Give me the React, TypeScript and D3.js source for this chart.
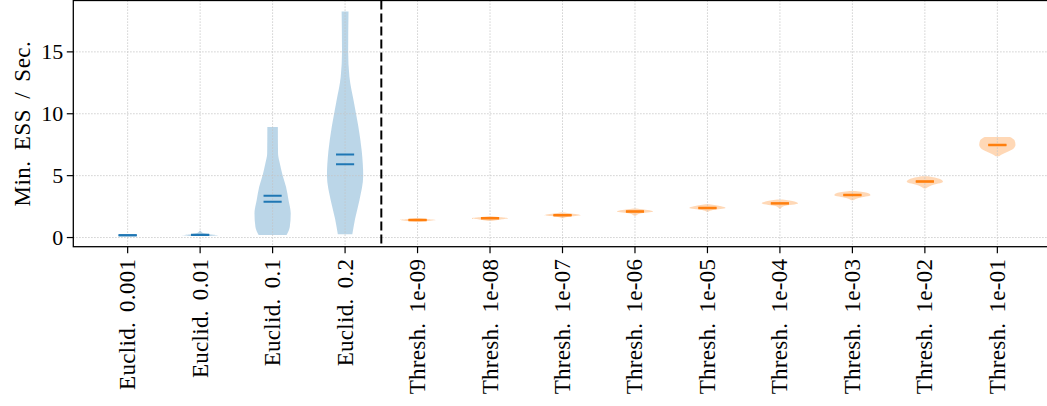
import React from "react";
import * as d3 from "d3";

const categories = [
  "Euclid. 0.001", "Euclid. 0.01", "Euclid. 0.1", "Euclid. 0.2",
  "Thresh. 1e-09", "Thresh. 1e-08", "Thresh. 1e-07", "Thresh. 1e-06", "Thresh. 1e-05",
  "Thresh. 1e-04", "Thresh. 1e-03", "Thresh. 1e-02", "Thresh. 1e-01",
];
const groups = ["euclid", "euclid", "euclid", "euclid", "thresh", "thresh", "thresh", "thresh", "thresh", "thresh", "thresh", "thresh", "thresh"];
const means = [0.18, 0.23, 3.37, 6.71, 1.43, 1.57, 1.83, 2.13, 2.4, 2.78, 3.45, 4.55, 7.5];
const medians = [0.18, 0.21, 2.89, 5.93, 1.39, 1.53, 1.79, 2.09, 2.36, 2.74, 3.41, 4.51, 7.46];
// density profiles: [value, relative half-width]
const profiles: [number, number][][] = [
  [[0.175, 0.5], [0.18, 1], [0.185, 0.5]],
  [[0.12, 0.5], [0.18, 1], [0.25, 0.6], [0.35, 0.2], [0.45, 0.08], [0.55, 0.04]],
  [[0.2, 0.77], [0.87, 0.95], [1.95, 1.0], [3.02, 0.88], [4.1, 0.74], [5.04, 0.55], [5.98, 0.4], [6.79, 0.3], [8.94, 0.29]],
  [[0.26, 0.4], [1.5, 0.55], [3, 0.79], [5, 1.0], [7, 0.92], [9, 0.73], [11, 0.48], [13, 0.24], [15, 0.17], [18.27, 0.19]],
  [[1.28, 0.1], [1.36, 0.7], [1.42, 1.0], [1.48, 0.6], [1.55, 0.1]],
  [[1.33, 0.1], [1.45, 0.6], [1.55, 1.0], [1.63, 0.6], [1.73, 0.1]],
  [[1.55, 0.05], [1.68, 0.3], [1.8, 1.0], [1.9, 0.7], [2.03, 0.1]],
  [[1.76, 0.05], [1.95, 0.3], [2.1, 1.0], [2.22, 0.7], [2.35, 0.1]],
  [[2.08, 0.05], [2.22, 0.3], [2.38, 1.0], [2.52, 0.75], [2.68, 0.1]],
  [[2.35, 0.05], [2.55, 0.25], [2.75, 1.0], [2.92, 0.8], [3.08, 0.15]],
  [[3.02, 0.05], [3.2, 0.35], [3.42, 1.0], [3.6, 0.85], [3.77, 0.15]],
  [[3.97, 0.05], [4.2, 0.35], [4.5, 1.0], [4.75, 0.8], [4.96, 0.2]],
  [[6.57, 0.1], [6.75, 0.3], [6.95, 0.6], [7.2, 0.9], [7.5, 1.0], [7.85, 0.95], [8.13, 0.7]],
];
const yTicks = [0, 5, 10, 15];
const separatorPos = 4.5;
const yLabel = "Min. ESS / Sec.";

const colors: Record<string, string> = { euclid: "#1f77b4", thresh: "#ff7f0e" };

const W = 1047, H = 406;
const left = 73.3, right = 1051.7, top = 0.5, bottom = 246.7;
const FONT = "'Liberation Serif', serif";

export default function App() {
  const x = d3.scaleLinear().domain([0.25, 13.75]).range([left, right]);
  const y = d3.scaleLinear().domain([-0.74, 19.15]).range([bottom, top]);
  const halfW = x(1.25) - x(1);
  const area = d3
    .area<[number, number]>()
    .y((d) => y(d[0]))
    .curve(d3.curveMonotoneY);

  const grid = { stroke: "#c4c4c4", strokeWidth: 1, strokeDasharray: "1.2,1.8" };

  return (
    <svg width={W} height={H} style={{ position: "absolute", left: 0, top: 0, background: "#fff" }}>
      <defs>
        <clipPath id="plot">
          <rect x={left} y={top} width={right - left} height={bottom - top} />
        </clipPath>
      </defs>
      <g clipPath="url(#plot)">
        {profiles.map((p, i) => {
          const cx = x(i + 1);
          const a = area.x0((d) => cx - d[1] * halfW).x1((d) => cx + d[1] * halfW);
          return <path key={i} d={a(p) || ""} fill={colors[groups[i]]} fillOpacity={0.3} stroke="none" />;
        })}
        {yTicks.map((t) => (
          <line key={"gy" + t} x1={left} x2={right} y1={y(t)} y2={y(t)} {...grid} />
        ))}
        {categories.map((c, i) => (
          <line key={"gx" + i} x1={x(i + 1)} x2={x(i + 1)} y1={top} y2={bottom} {...grid} />
        ))}
        {categories.map((c, i) => {
          const cx = x(i + 1);
          return (
            <g key={"l" + i} stroke={colors[groups[i]]} strokeWidth={2}>
              <line x1={cx - halfW / 2} x2={cx + halfW / 2} y1={y(means[i])} y2={y(means[i])} />
              <line x1={cx - halfW / 2} x2={cx + halfW / 2} y1={y(medians[i])} y2={y(medians[i])} />
            </g>
          );
        })}
        <line x1={x(separatorPos)} x2={x(separatorPos)} y1={top} y2={bottom} stroke="#000" strokeWidth={2} strokeDasharray="9,4" />
      </g>
      <rect x={left} y={top} width={right - left} height={bottom - top} fill="none" stroke="#000" strokeWidth={1.3} />
      {yTicks.map((t) => (
        <g key={"yt" + t}>
          <line x1={left - 6.5} x2={left} y1={y(t)} y2={y(t)} stroke="#000" strokeWidth={1.2} />
          <text x={left - 10} y={y(t)} textAnchor="end" dominantBaseline="central" fontFamily={FONT} fontSize={22}>
            {t}
          </text>
        </g>
      ))}
      {categories.map((c, i) => (
        <g key={"xt" + i}>
          <line x1={x(i + 1)} x2={x(i + 1)} y1={bottom} y2={bottom + 6.5} stroke="#000" strokeWidth={1.2} />
          <text
            transform={`translate(${x(i + 1)},${bottom + 12}) rotate(-90)`}
            textAnchor="end"
            dominantBaseline="central"
            fontFamily={FONT}
            fontSize={23}
            letterSpacing={0.3}
            wordSpacing={4}
          >
            {c}
          </text>
        </g>
      ))}
      <text
        transform={`translate(22,${(top + bottom) / 2}) rotate(-90)`}
        textAnchor="middle"
        dominantBaseline="central"
        fontFamily={FONT}
        fontSize={23}
        letterSpacing={0.5}
        wordSpacing={4}
      >
        {yLabel}
      </text>
    </svg>
  );
}
